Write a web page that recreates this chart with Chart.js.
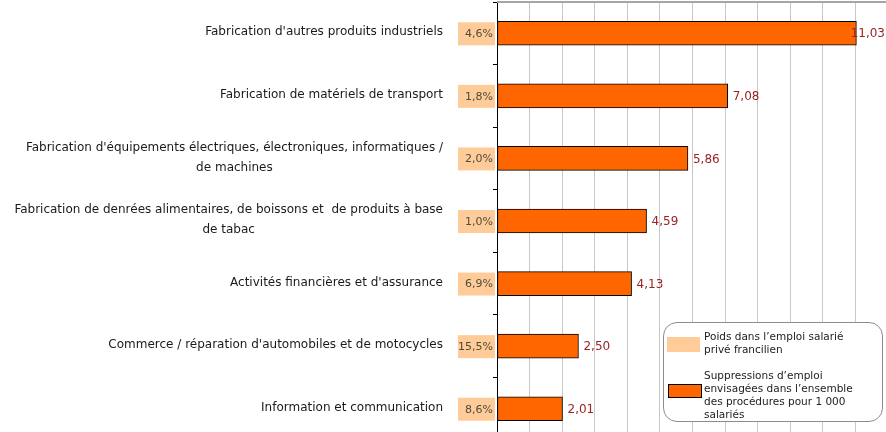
<!DOCTYPE html>
<html>
<head>
<meta charset="utf-8">
<script src="https://cdn.jsdelivr.net/npm/chart.js@4"></script>
<style>
  body { margin: 0; background: #fff; }
  #wrap { position: relative; width: 886px; height: 432px; overflow: hidden; }
  #box { position: absolute; left: 0; top: 0; width: 888px; height: 440px; }
  #legend {
    position: absolute; left: 663px; top: 322px; width: 218px; height: 98px;
    border: 1px solid #8c8c8c; border-radius: 14px; background: #fff;
    font-family: "DejaVu Sans", sans-serif; font-size: 10.5px; color: #222; line-height: 13px;
  }
  .item { position: absolute; left: 40px; }
  .sw { position: absolute; width: 33px; height: 15px; }
</style>
</head>
<body>
<div id="wrap">
  <div id="box"><canvas id="chart"></canvas></div>
  <div id="legend">
    <div class="sw" style="left:3px;top:14px;background:#ffcc99;"></div>
    <div class="item" style="top:7px;">Poids dans l’emploi salarié<br>privé francilien</div>
    <div class="sw" style="left:4px;top:61px;background:#ff6600;border:1px solid #000;width:32px;height:12px;"></div>
    <div class="item" style="top:46px;">Suppressions d’emploi<br>envisagées dans l’ensemble<br>des procédures pour 1 000<br>salariés</div>
  </div>
</div>
<script>
// secteurs (libellés sur plusieurs lignes)
const categories = [
  ["Fabrication d'autres produits industriels"],
  ["Fabrication de matériels de transport"],
  ["Fabrication d'équipements électriques, électroniques, informatiques /", "de machines"],
  ["Fabrication de denrées alimentaires, de boissons et  de produits à base", "de tabac"],
  ["Activités financières et d'assurance"],
  ["Commerce / réparation d'automobiles et de motocycles"],
  ["Information et communication"]
];
// suppressions d'emploi pour 1 000 salariés
const suppressions = [11.03, 7.08, 5.86, 4.59, 4.13, 2.50, 2.01];
// poids dans l'emploi salarié privé francilien
const poids = ["4,6%", "1,8%", "2,0%", "1,0%", "6,9%", "15,5%", "8,6%"];

const fmt = v => v.toFixed(2).replace('.', ',');

const extras = {
  id: 'extras',
  afterDatasetsDraw(chart) {
    const ctx = chart.ctx;
    const y = chart.scales.y;
    const area = chart.chartArea;
    const meta = chart.getDatasetMeta(0);
    ctx.save();
    categories.forEach((lines, i) => {
      const cy = y.getPixelForValue(i);
      // libellé de catégorie, bloc centré calé à droite
      ctx.font = '12px "DejaVu Sans", sans-serif';
      ctx.fillStyle = '#1a1a1a';
      ctx.textBaseline = 'middle';
      ctx.textAlign = 'center';
      const w = Math.max(...lines.map(l => ctx.measureText(l).width));
      const cx = 443 - w / 2;
      const lh = 20;
      const y0 = cy - (lines.length - 1) * lh / 2 - 1;
      lines.forEach((l, k) => ctx.fillText(l, cx, y0 + k * lh));
      // case "poids"
      ctx.fillStyle = '#ffcc99';
      ctx.fillRect(area.left - 39, cy - 11, 37, 23);
      ctx.font = '11px "DejaVu Sans", sans-serif';
      ctx.fillStyle = '#4d4d3a';
      ctx.textAlign = 'right';
      ctx.fillText(poids[i], area.left - 4, cy + 1);
      // valeur
      const bar = meta.data[i];
      ctx.font = '12px "DejaVu Sans", sans-serif';
      ctx.fillStyle = '#9b2323';
      ctx.textAlign = 'left';
      const txt = fmt(suppressions[i]);
      const tw = ctx.measureText(txt).width;
      ctx.fillText(txt, Math.min(bar.x + 5, 886 - tw - 1), cy + 1);
    });
    // bord supérieur de la zone de tracé
    ctx.strokeStyle = '#a6a6a6';
    ctx.lineWidth = 2;
    ctx.beginPath();
    ctx.moveTo(area.left, area.top);
    ctx.lineTo(area.right, area.top);
    ctx.stroke();
    ctx.restore();
  }
};

new Chart(document.getElementById('chart'), {
  type: 'bar',
  data: {
    labels: categories.map(c => c.join(' ')),
    datasets: [{
      data: suppressions,
      backgroundColor: '#ff6600',
      borderColor: '#000',
      borderWidth: 1,
      borderSkipped: false,
      barThickness: 24
    }]
  },
  options: {
    indexAxis: 'y',
    responsive: true,
    maintainAspectRatio: false,
    animation: false,
    layout: { padding: { top: 2, right: 0, bottom: 0, left: 0 } },
    plugins: { legend: { display: false }, tooltip: { enabled: false } },
    scales: {
      x: {
        min: 0, max: 12,
        ticks: { display: false, stepSize: 1 },
        grid: { color: '#c8c8c8', drawTicks: false },
        border: { display: false }
      },
      y: {
        ticks: { display: false },
        grid: { display: true, drawOnChartArea: false, color: '#000', tickLength: 4, offset: true },
        border: { color: '#000', width: 1 },
        afterFit: s => { s.width = 497; }
      }
    }
  },
  plugins: [extras]
});
</script>
</body>
</html>
